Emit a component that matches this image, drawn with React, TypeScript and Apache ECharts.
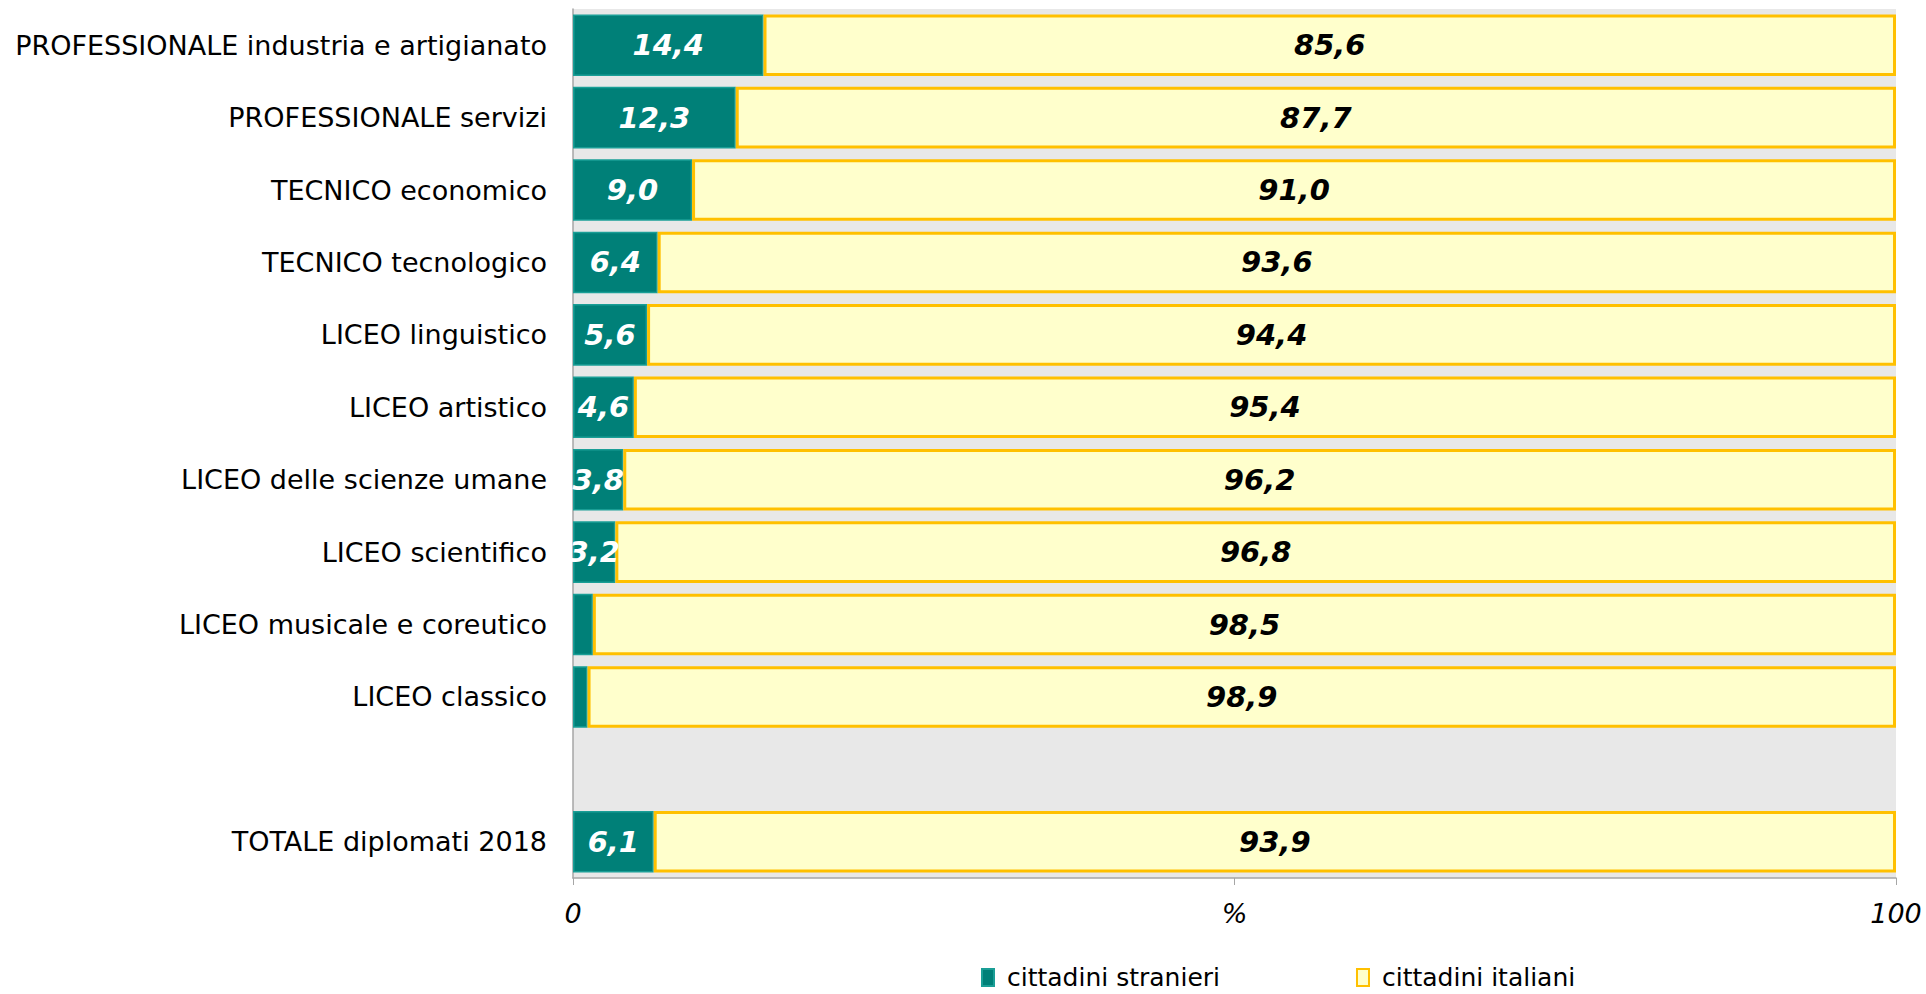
import React, { useEffect, useRef } from "react";
import * as echarts from "echarts";

const categories = [
  "PROFESSIONALE industria e artigianato",
  "PROFESSIONALE servizi",
  "TECNICO economico",
  "TECNICO tecnologico",
  "LICEO linguistico",
  "LICEO artistico",
  "LICEO delle scienze umane",
  "LICEO scientifico",
  "LICEO musicale e coreutico",
  "LICEO classico",
  "",
  "TOTALE diplomati 2018",
];
const stranieri = [14.4, 12.3, 9.0, 6.4, 5.6, 4.6, 3.8, 3.2, 1.5, 1.1, null, 6.1];
const italiani = [85.6, 87.7, 91.0, 93.6, 94.4, 95.4, 96.2, 96.8, 98.5, 98.9, null, 93.9];
const xTickLabels: Record<number, string> = { 0: "0", 50: "%", 100: "100" };

const fmt = (v: number) => v.toFixed(1).replace(".", ",");
const FONT = "DejaVu Sans";

export default function App() {
  const ref = useRef<HTMLDivElement>(null);
  useEffect(() => {
    if (!ref.current) return;
    const chart = echarts.init(ref.current, undefined, { renderer: "svg" });
    chart.setOption({
      animation: false,
      textStyle: { fontFamily: FONT },
      grid: {
        left: 573,
        right: 30,
        top: 9,
        bottom: 116,
        show: true,
        backgroundColor: "#e8e8e8",
        borderWidth: 0,
      },
      legend: {
        left: 976,
        top: 960,
        itemWidth: 12,
        itemHeight: 17,
        itemGap: 136,
        textStyle: { fontFamily: FONT, fontSize: 25, color: "#000", padding: [0, 0, 0, 8] },
        data: [
          { name: "cittadini stranieri", icon: "rect" },
          { name: "cittadini italiani", icon: "rect" },
        ],
      },
      xAxis: {
        type: "value",
        min: 0,
        max: 100,
        interval: 50,
        splitLine: { show: false },
        axisLine: { show: true, lineStyle: { color: "#a6a6a6", width: 1.5 } },
        axisTick: { show: true, length: 7, lineStyle: { color: "#a6a6a6" } },
        axisLabel: {
          margin: 22,
          fontFamily: FONT,
          fontSize: 27,
          fontStyle: "italic",
          color: "#000",
          formatter: (v: number) => xTickLabels[v] ?? "",
        },
      },
      yAxis: {
        type: "category",
        inverse: true,
        data: categories,
        axisLine: { show: true, lineStyle: { color: "#a6a6a6", width: 1.5 } },
        axisTick: { show: false },
        axisLabel: {
          margin: 26,
          fontFamily: FONT,
          fontSize: 27,
          color: "#000",
        },
      },
      series: [
        {
          name: "cittadini stranieri",
          type: "bar",
          stack: "t",
          barCategoryGap: "15%",
          data: stranieri,
          itemStyle: { color: "#008078", borderColor: "#1a9e96", borderWidth: 1.5 },
          label: {
            show: true,
            position: "inside",
            fontFamily: FONT,
            fontSize: 29,
            fontWeight: "bold",
            fontStyle: "italic",
            color: "#fff",
            formatter: (p: any) => (p.value == null || p.value < 3 ? "" : fmt(p.value)),
          },
        },
        {
          name: "cittadini italiani",
          type: "bar",
          stack: "t",
          barCategoryGap: "15%",
          data: italiani,
          itemStyle: { color: "#ffffcc", borderColor: "#ffc000", borderWidth: 3 },
          label: {
            show: true,
            position: "inside",
            fontFamily: FONT,
            fontSize: 29,
            fontWeight: "bold",
            fontStyle: "italic",
            color: "#000",
            formatter: (p: any) => (p.value == null ? "" : fmt(p.value)),
          },
        },
      ],
    });
    return () => chart.dispose();
  }, []);
  return (
    <div
      ref={ref}
      style={{ position: "fixed", left: 0, top: 0, width: 1926, height: 994, background: "#fff" }}
    />
  );
}
